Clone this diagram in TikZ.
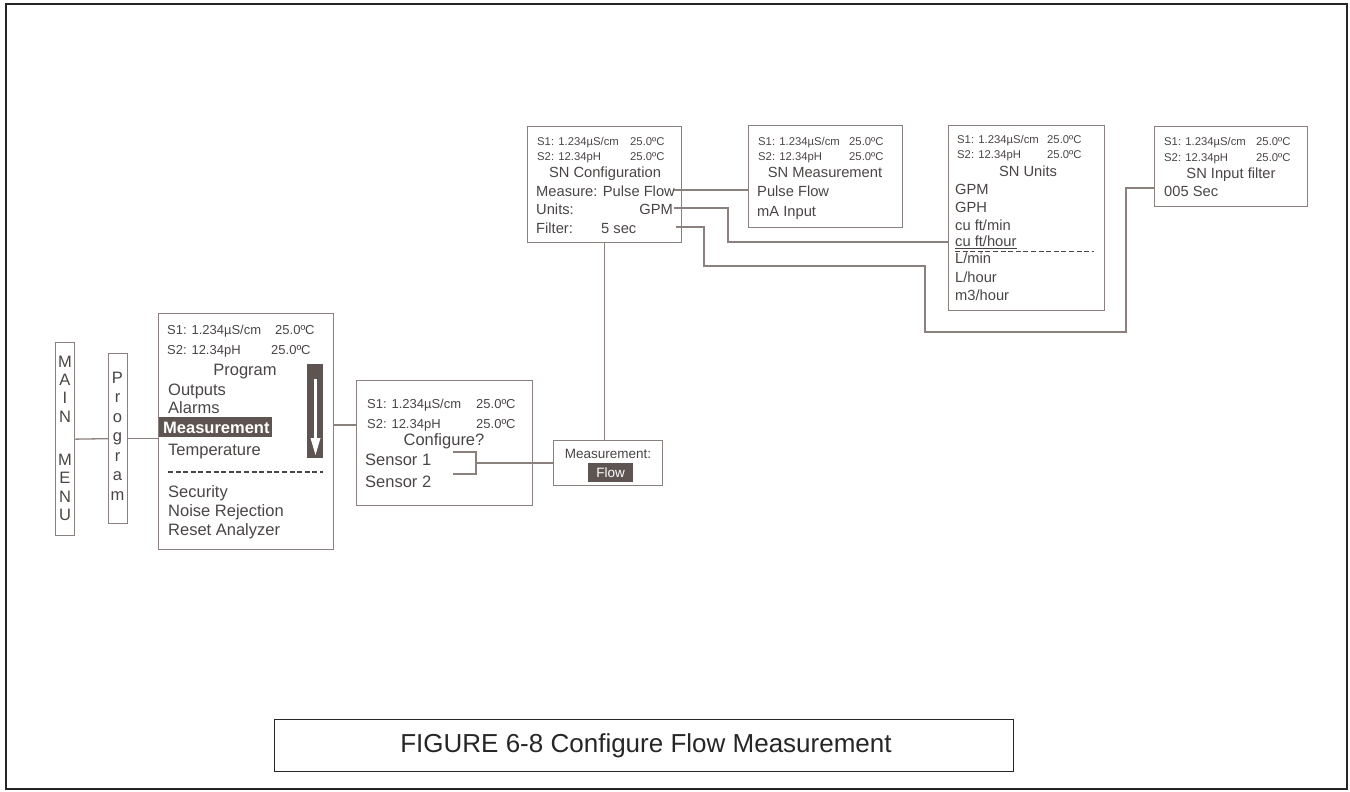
\documentclass[tikz,border=0pt]{standalone}
\usepackage{fontspec}
\setmainfont{Liberation Sans}
\definecolor{ln}{HTML}{8A807E}
\definecolor{tx}{HTML}{4A4545}
\definecolor{hl}{HTML}{5E5553}
\definecolor{fr}{HTML}{262626}
\newcommand\fsS{\fontsize{13}{15}\selectfont}
\newcommand\fsM{\fontsize{16.5}{19}\selectfont}
\newcommand\fsU{\fontsize{11.3}{13}\selectfont}
\newcommand\fsV{\fontsize{14.7}{17}\selectfont}
\newcommand\fsW{\fontsize{13.5}{16}\selectfont}
\newcommand\fsC{\fontsize{26}{30}\selectfont}
\tikzset{
  box/.style={draw=ln, line width=1.3pt, anchor=north west, inner sep=0pt},
  conn/.style={draw=ln, line width=1.3pt},
  tl/.style={anchor=base west, inner sep=0pt, text=tx},
  tm/.style={anchor=base, inner sep=0pt, text=tx},
  dsh/.style={draw=tx, line width=1.4pt, dash pattern=on 5pt off 2.6pt},
}
\begin{document}
\begin{tikzpicture}[x=1pt,y=-1pt]
\useasboundingbox (0,0) rectangle (1350,792);
% outer frame
\draw[fr, line width=2.2pt] (6,4) rectangle (1347,789);

% MAIN MENU
\node[box, minimum width=19pt, minimum height=193pt] (mainmenu) at (55,342) {};
\foreach \c/\y in {M/367,A/385,I/403,N/422,M/465,E/483,N/502,U/520}
  \node[tm, font=\fsM] at (65,\y) {\c};
% Program vertical
\node[box, minimum width=19pt, minimum height=170pt] (prog) at (108,353) {};
\foreach \c/\y in {P/383,r/402.5,o/422,g/441.5,r/461,a/480.5,m/500}
  \node[tm, font=\fsM] at (117.5,\y) {\c};

% Program menu box
\node[box, minimum width=175pt, minimum height=236pt] (mainbox) at (158,313) {};
\node[tl, font=\fsS] at (167,334) {S1: 1.234µS/cm};
\node[tl, font=\fsS] at (275,334) {25.0ºC};
\node[tl, font=\fsS] at (167,354) {S2: 12.34pH};
\node[tl, font=\fsS] at (271,354) {25.0ºC};
\node[tm, font=\fsM] at (245,375) {Program};
\node[tl, font=\fsM] at (168,395) {Outputs};
\node[tl, font=\fsM] at (168,413) {Alarms};
\fill[hl] (159,417) rectangle (272,437);
\node[tl, font=\fsM\bfseries, text=white] (measitem) at (163,433) {Measurement};
\node[tl, font=\fsM] at (168,455) {Temperature};
\draw[dsh] (168,472) -- (323,472);
\node[tl, font=\fsM] at (168,497) {Security};
\node[tl, font=\fsM] at (168,516) {Noise Rejection};
\node[tl, font=\fsM] at (168,535) {Reset Analyzer};
% scroll bar
\fill[hl] (307,364) rectangle (323,458);
\fill[white] (313.5,379) rectangle (316.5,440);
\fill[white] (310.5,438) -- (320.5,438) -- (315.5,455) -- cycle;

% Configure box
\node[box, minimum width=176pt, minimum height=125pt] (cfgbox) at (356,380) {};
\node[tl, font=\fsS] at (367,408) {S1: 1.234µS/cm};
\node[tl, font=\fsS] at (476,408) {25.0ºC};
\node[tl, font=\fsS] at (367,428) {S2: 12.34pH};
\node[tl, font=\fsS] at (476,428) {25.0ºC};
\node[tm, font=\fsM] at (444,445) {Configure?};
\node[tl, font=\fsM] (sen1) at (365,465) {Sensor 1};
\node[tl, font=\fsM] (sen2) at (365,487) {Sensor 2};

% Measurement: Flow box
\node[box, minimum width=109pt, minimum height=45pt] (meas) at (553,440) {};
\node[tm, font=\fsW] at (608,458) {Measurement:};
\fill[hl] (588,463) rectangle (633,482);
\node[tm, font=\fsW, text=white] at (610.5,477) {Flow};

% SN Configuration box
\node[box, minimum width=154pt, minimum height=116pt] (snconf) at (527,126) {};
\node[tl, font=\fsU] at (537,145) {S1: 1.234µS/cm};
\node[tl, font=\fsU] at (630,145) {25.0ºC};
\node[tl, font=\fsU] at (537,160) {S2: 12.34pH};
\node[tl, font=\fsU] at (630,160) {25.0ºC};
\node[tm, font=\fsV] at (605,177) {SN Configuration};
\node[tl, font=\fsV] (measure) at (536,196) {Measure: Pulse Flow};
\node[tl, font=\fsV] at (536,214) {Units:};
\node[anchor=base east, inner sep=0pt, text=tx, font=\fsV] (gpm) at (673,214) {GPM};
\node[tl, font=\fsV] at (536,233) {Filter:};
\node[tl, font=\fsV] (fsec) at (601,233) {5 sec};

% SN Measurement box
\node[box, minimum width=154pt, minimum height=102pt] (snmeas) at (748,125) {};
\node[tl, font=\fsU] at (758,145) {S1: 1.234µS/cm};
\node[tl, font=\fsU] at (849,145) {25.0ºC};
\node[tl, font=\fsU] at (758,160) {S2: 12.34pH};
\node[tl, font=\fsU] at (849,160) {25.0ºC};
\node[tm, font=\fsV] at (825,177) {SN Measurement};
\node[tl, font=\fsV] at (757,196) {Pulse Flow};
\node[tl, font=\fsV] at (757,216) {mA Input};

% SN Units box
\node[box, minimum width=156pt, minimum height=185pt] (snunits) at (948,125) {};
\node[tl, font=\fsU] at (957,143) {S1: 1.234µS/cm};
\node[tl, font=\fsU] at (1047,143) {25.0ºC};
\node[tl, font=\fsU] at (957,158) {S2: 12.34pH};
\node[tl, font=\fsU] at (1047,158) {25.0ºC};
\node[tm, font=\fsV] at (1028,176) {SN Units};
\node[tl, font=\fsV] at (955,194) {GPM};
\node[tl, font=\fsV] at (955,212) {GPH};
\node[tl, font=\fsV] at (955,230) {cu ft/min};
\node[tl, font=\fsV] (cuhr) at (955,246.5) {cu ft/hour};
\draw[tx, line width=1pt] ([yshift=-1.6pt]cuhr.base west) -- ([yshift=-1.6pt]cuhr.base east);
\draw[dsh] (955,251.5) -- (1094,251.5);
\node[tl, font=\fsV] at (955,263) {L/min};
\node[tl, font=\fsV] at (955,282) {L/hour};
\node[tl, font=\fsV] at (955,300) {m3/hour};

% SN Input filter box
\node[box, minimum width=153pt, minimum height=80pt] (sninput) at (1154,126) {};
\node[tl, font=\fsU] at (1164,145) {S1: 1.234µS/cm};
\node[tl, font=\fsU] at (1256,145) {25.0ºC};
\node[tl, font=\fsU] at (1164,161) {S2: 12.34pH};
\node[tl, font=\fsU] at (1256,161) {25.0ºC};
\node[tm, font=\fsV] at (1231,178) {SN Input filter};
\node[tl, font=\fsV] at (1164,196) {005 Sec};

% caption
\node[box, draw=fr, line width=1.3pt, minimum width=739pt, minimum height=52pt] (cap) at (274,719) {};
\node[tm, font=\fsC, text=fr] at (646,752) {FIGURE 6-8 Configure Flow Measurement};

% connectors
\draw[conn] (mainmenu.east) -- (prog.west);
\draw[conn] (prog.east) -- (mainbox.west |- prog.east);
\coordinate (c1) at (340,425);
\draw[conn] (mainbox.east |- c1) -- (cfgbox.west |- c1);
\coordinate (b1) at (453,452);
\coordinate (b2) at (453,474);
\coordinate (bj) at (476,463);
\draw[conn] (b1) -| (bj |- b2) -- (b2);
\draw[conn] (bj) -- (meas.west |- bj);
\draw[conn] ([xshift=-3.5pt]meas.north) -- ([xshift=-3.5pt]meas.north |- snconf.south);
\coordinate (m1) at (674,190);
\draw[conn] (m1) -- (snmeas.west |- m1);
\coordinate (g0) at (674,208);
\coordinate (g1) at (728,242);
\draw[conn] (g0) -| (g1) -- (snunits.west |- g1);
\coordinate (f0) at (676,227);
\coordinate (f1) at (704,266);
\coordinate (f2) at (925,332);
\coordinate (f3) at (1126,188);
\draw[conn] (f0) -| (f1) -| (f2) -| (f3) -- (sninput.west |- f3);
\end{tikzpicture}
\end{document}
